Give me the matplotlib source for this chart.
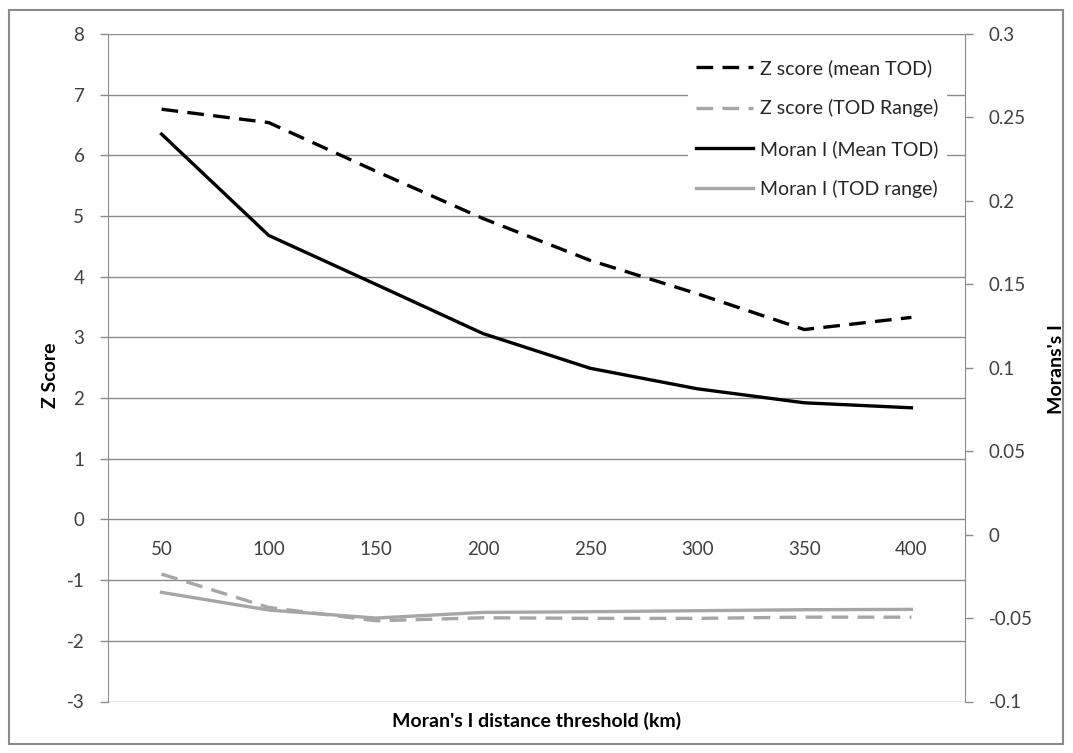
import matplotlib
matplotlib.use("Agg")
import matplotlib.pyplot as plt
from matplotlib.patches import Rectangle

plt.rcParams['font.family'] = ['Lato', 'DejaVu Sans']

categories = ["50", "100", "150", "200", "250", "300", "350", "400"]
z_mean_tod = [6.76, 6.54, 5.74, 4.96, 4.27, 3.72, 3.13, 3.33]
z_tod_range = [-0.90, -1.45, -1.67, -1.62, -1.63, -1.63, -1.61, -1.61]
moran_mean_tod = [0.240, 0.1793, 0.150, 0.1205, 0.0997, 0.0874, 0.079, 0.076]
moran_tod_range = [-0.0346, -0.0452, -0.0500, -0.0466, -0.0462, -0.0456, -0.0450, -0.0448]

left_ticks = list(range(-3, 9))
right_ticks = [-0.1, -0.05, 0, 0.05, 0.1, 0.15, 0.2, 0.25, 0.3]
right_labels = ["-0.1", "-0.05", "0", "0.05", "0.1", "0.15", "0.2", "0.25", "0.3"]

W, H = 1073, 753
fig = plt.figure(figsize=(W / 100, H / 100), dpi=100)
fig.patch.set_facecolor('white')
fig.add_artist(Rectangle((9 / W, 1 - 744 / H), 1054 / W, 734 / H, transform=fig.transFigure,
                         fill=False, edgecolor='#8a8a8a', lw=1.5))

x0, x1, ytop, ybot = 108, 965, 34, 701.5
ax = fig.add_axes([x0 / W, 1 - ybot / H, (x1 - x0) / W, (ybot - ytop) / H])
ax2 = ax.twinx()

grid_c = '#8c8c8c'
tick_c = '#404040'
x = list(range(len(categories)))
FS = 13.5

ax.set_ylim(-3, 8)
ax.set_xlim(-0.5, len(categories) - 0.5)
ax.set_yticks(left_ticks)
ax.set_yticklabels([str(t) for t in left_ticks])
for t in left_ticks:
    ax.axhline(t, color=grid_c, lw=1.0, zorder=0)
for s in ['top', 'right', 'bottom']:
    ax.spines[s].set_visible(False)
ax.spines['left'].set_color(grid_c)
ax.tick_params(axis='y', colors=grid_c, labelcolor=tick_c, length=6, width=1, labelsize=FS, pad=11)
ax.set_xticks([])
for xi, lab in zip(x, categories):
    ax.text(xi, -0.5, lab, ha='center', va='center', fontsize=FS, color=tick_c)

ax2.set_ylim(-0.1, 0.3)
ax2.set_yticks(right_ticks)
ax2.set_yticklabels(right_labels)
for s in ['top', 'left', 'bottom']:
    ax2.spines[s].set_visible(False)
ax2.spines['right'].set_color(grid_c)
ax2.tick_params(axis='y', colors=grid_c, labelcolor=tick_c, length=6, width=1, labelsize=FS, pad=11)

dash = (5, 2.8)
l1, = ax.plot(x, z_mean_tod, color='black', lw=2.4, dashes=dash, label='Z score (mean TOD)', zorder=3)
l2, = ax.plot(x, z_tod_range, color='#a6a6a6', lw=2.4, dashes=dash, label='Z score (TOD Range)', zorder=3)
l3, = ax2.plot(x, moran_mean_tod, color='black', lw=2.4, label='Moran I (Mean TOD)', zorder=3)
l4, = ax2.plot(x, moran_tod_range, color='#a6a6a6', lw=2.4, label='Moran I (TOD range)', zorder=3)

leg = ax2.legend(handles=[l1, l2, l3, l4], loc='upper right', bbox_to_anchor=(0.99, 0.99),
                 frameon=True, fontsize=14, handlelength=2.9, handletextpad=0.35,
                 labelspacing=1.15, borderpad=0.45)
leg.get_frame().set_edgecolor('none')
leg.get_frame().set_facecolor('white')
leg.get_frame().set_alpha(1)
for t in leg.get_texts():
    t.set_color('#262626')

fig.text(537 / W, 1 - 721 / H, "Moran's I distance threshold (km)", ha='center', va='center',
         fontsize=14, fontweight='bold', color='black')
fig.text(50 / W, 1 - 375 / H, "Z Score", ha='center', va='center', rotation=90,
         fontsize=14, fontweight='bold', color='black')
fig.text(1056 / W, 1 - 369 / H, "Morans's I", ha='center', va='center', rotation=90,
         fontsize=14, fontweight='bold', color='black')

fig.savefig('out.png', dpi=100, facecolor='white')
